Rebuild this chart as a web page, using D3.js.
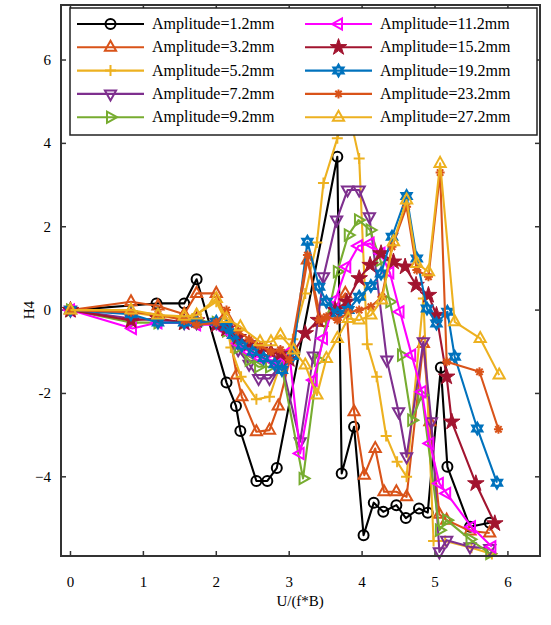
<!DOCTYPE html>
<html>
<head>
<meta charset="utf-8">
<script src="https://cdn.jsdelivr.net/npm/d3@7"></script>
<style>
  body { margin: 0; background: #fff; }
  svg text { font-family: "Liberation Serif", "Times New Roman", serif; fill: #000; }
</style>
</head>
<body>
<svg id="chart" width="551" height="625"></svg>
<script>
// series values: [U/(f*B), H4]
var amp1_2 = [[0,0],[1.18,0.16],[1.56,0.16],[1.73,0.74],[2.14,-1.74],[2.27,-2.30],[2.33,-2.90],[2.55,-4.10],[2.70,-4.10],[2.83,-3.79],[3.66,3.68],[3.72,-3.92],[3.89,-2.80],[4.02,-5.40],[4.16,-4.62],[4.29,-4.84],[4.47,-4.68],[4.60,-4.99],[4.78,-4.76],[4.90,-4.86],[5.08,-1.38],[5.17,-3.76],[5.48,-5.20],[5.75,-5.10]];
var amp3_2 = [[0,0],[0.83,0.2],[1.2,0.1],[1.56,-0.1],[1.73,0.4],[2.0,0.4],[2.14,-0.2],[2.28,-1.56],[2.35,-2.08],[2.55,-2.92],[2.73,-2.88],[2.85,-2.30],[3.05,-0.9],[3.25,1.2],[3.45,-0.3],[3.62,0.05],[3.77,0.4],[3.89,-2.44],[4.03,-3.96],[4.18,-3.32],[4.30,-4.36],[4.47,-4.36],[4.61,-4.48],[4.84,-0.8],[4.93,-2.68],[5.06,-4.9],[5.16,-5.04],[5.48,-5.3],[5.75,-5.35]];
var amp5_2 = [[0,0],[0.83,-0.05],[1.2,-0.15],[1.56,-0.2],[1.73,-0.1],[2.0,0.2],[2.14,-0.3],[2.2,-0.9],[2.34,-1.6],[2.55,-2.14],[2.73,-2.08],[2.88,-1.3],[3.05,-0.7],[3.22,0.4],[3.38,1.62],[3.47,3.05],[3.66,4.12],[3.8,4.9],[3.96,3.64],[4.07,-0.82],[4.20,-1.60],[4.33,-3.02],[4.48,-3.64],[4.61,-4.0],[4.84,0.28],[4.98,-5.54],[5.14,-5.54],[5.5,-5.7],[5.78,-5.85]];
var amp7_2 = [[0,0],[0.83,-0.2],[1.2,-0.25],[1.56,-0.3],[1.73,-0.3],[2.0,-0.3],[2.14,-0.45],[2.3,-0.95],[2.45,-1.3],[2.58,-1.64],[2.73,-1.64],[2.9,-1.3],[3.15,-3.16],[3.33,-1.1],[3.47,0.80],[3.65,2.16],[3.80,2.88],[3.96,2.88],[4.10,2.24],[4.34,-1.2],[4.50,-2.44],[4.61,-3.52],[4.84,-0.76],[4.95,-2.68],[5.06,-5.8],[5.16,-5.52],[5.48,-5.68],[5.75,-5.72]];
var amp9_2 = [[0,0],[0.83,-0.3],[1.2,-0.3],[1.56,-0.3],[1.73,-0.25],[2.0,-0.3],[2.14,-0.5],[2.3,-0.9],[2.45,-1.2],[2.58,-1.36],[2.73,-1.36],[2.88,-1.2],[3.19,-4.04],[3.4,-1.2],[3.66,0.92],[3.81,1.8],[3.95,2.16],[4.11,1.92],[4.25,1.2],[4.38,0.2],[4.54,-1.08],[4.68,-2.64],[4.82,-2.04],[5.06,-5.28],[5.16,-5.04],[5.48,-5.50],[5.75,-5.84]];
var amp11_2 = [[0,0],[0.85,-0.44],[1.2,-0.3],[1.56,-0.3],[1.73,-0.35],[2.0,-0.35],[2.14,-0.5],[2.3,-0.8],[2.45,-1.0],[2.6,-1.15],[2.75,-1.2],[2.88,-1.25],[3.0,-1.0],[3.15,-3.44],[3.33,-1.68],[3.47,-0.68],[3.63,0.24],[3.79,1.04],[3.95,1.54],[4.11,1.6],[4.26,1.36],[4.38,0.9],[4.52,-0.04],[4.68,-1.08],[4.82,-1.96],[4.93,-3.2],[5.06,-4.16],[5.16,-4.4],[5.50,-5.2],[5.78,-5.68]];
var amp15_2 = [[0,0],[0.83,-0.25],[1.2,-0.2],[1.56,-0.3],[1.73,-0.25],[2.0,-0.35],[2.14,-0.45],[2.3,-0.65],[2.45,-0.8],[2.6,-0.95],[2.75,-1.0],[2.88,-1.05],[3.0,-1.18],[3.22,-0.56],[3.40,-0.24],[3.63,0],[3.79,0.2],[3.96,0.76],[4.11,1.08],[4.26,1.36],[4.43,1.16],[4.59,1.04],[4.74,0.6],[4.91,0.36],[5.02,-0.12],[5.16,-1.6],[5.23,-2.68],[5.56,-4.16],[5.82,-5.12]];
var amp19_2 = [[0,0],[0.83,-0.1],[1.2,-0.3],[1.56,-0.3],[1.73,-0.3],[2.0,-0.28],[2.14,-0.4],[2.23,-0.6],[2.35,-0.85],[2.5,-1.0],[2.65,-1.15],[2.8,-1.3],[2.9,-1.44],[3.05,-1.1],[3.25,1.64],[3.41,0.56],[3.51,0.2],[3.66,-0.08],[3.81,0],[3.96,0.32],[4.12,0.58],[4.26,0.88],[4.41,1.76],[4.61,2.74],[4.75,1.24],[4.89,0.04],[5.02,-0.32],[5.17,-0.04],[5.27,-1.12],[5.58,-2.84],[5.85,-4.14]];
var amp23_2 = [[0,0],[0.83,-0.05],[1.2,-0.1],[1.56,-0.25],[1.73,-0.36],[2.0,-0.3],[2.14,0.0],[2.3,-0.5],[2.45,-0.7],[2.6,-0.85],[2.75,-1.0],[2.88,-0.95],[3.0,-1.2],[3.25,1.32],[3.41,-0.24],[3.51,-0.16],[3.66,-0.24],[3.81,-0.06],[3.96,0],[4.12,0.08],[4.27,0.32],[4.41,1.52],[4.61,2.48],[4.75,0.96],[4.91,0.8],[5.07,3.3],[5.16,-1.24],[5.61,-1.48],[5.87,-2.86]];
var amp27_2 = [[0,0],[0.83,0.0],[1.2,-0.12],[1.56,-0.15],[1.73,-0.12],[2.0,0.28],[2.14,-0.2],[2.33,-0.4],[2.6,-0.76],[2.75,-0.76],[2.88,-0.6],[3.06,-0.96],[3.22,-1.32],[3.38,-2.04],[3.51,-1.16],[3.66,-0.68],[3.81,-0.2],[3.96,-0.24],[4.12,-0.12],[4.27,0.24],[4.43,1.64],[4.61,2.64],[4.75,1.12],[4.91,0.92],[5.07,3.52],[5.27,-0.28],[5.62,-0.68],[5.88,-1.56]];

var seriesNames = ['Amplitude=1.2mm','Amplitude=3.2mm','Amplitude=5.2mm','Amplitude=7.2mm','Amplitude=9.2mm',
	'Amplitude=11.2mm','Amplitude=15.2mm','Amplitude=19.2mm','Amplitude=23.2mm','Amplitude=27.2mm'];
var seriesValues = [amp1_2, amp3_2, amp5_2, amp7_2, amp9_2, amp11_2, amp15_2, amp19_2, amp23_2, amp27_2];
var xTicks = [0, 1, 2, 3, 4, 5, 6];
var yTicks = [-4, -2, 0, 2, 4, 6];
var yTickLabels = ['\u22124', '-2', '0', '2', '4', '6'];

// styles
var colors = ['#000000','#D95319','#EDB120','#7E2F8E','#77AC30','#FF00FF','#A2142F','#0072BD','#D95319','#EDB120'];
var markers = ['circle','triUp','plus','triDown','triRight','triLeft','penta','hexa','aster','triUp'];

(function(){
	var svg = d3.select('#chart');
	var plotLeft = 61, plotRight = 540, plotTop = 5, plotBottom = 556;

	var x = d3.scaleLinear().domain([-0.13, 6.44]).range([plotLeft, plotRight]);
	var y = d3.scaleLinear().domain([-5.9, 7.32]).range([plotBottom, plotTop]);

	function markerPath(type){
		var p = d3.path();
		switch (type){
		case 'circle':
			p.moveTo(5, 0); p.arc(0, 0, 5, 0, 2 * Math.PI); break;
		case 'triUp':
			p.moveTo(0, -6.5); p.lineTo(5.6, 3.5); p.lineTo(-5.6, 3.5); p.closePath(); break;
		case 'triDown':
			p.moveTo(0, 6.5); p.lineTo(5.6, -3.5); p.lineTo(-5.6, -3.5); p.closePath(); break;
		case 'triRight':
			p.moveTo(6.5, 0); p.lineTo(-3.5, -5.6); p.lineTo(-3.5, 5.6); p.closePath(); break;
		case 'triLeft':
			p.moveTo(-6.5, 0); p.lineTo(3.5, -5.6); p.lineTo(3.5, 5.6); p.closePath(); break;
		case 'plus':
			p.moveTo(-5.5, 0); p.lineTo(5.5, 0); p.moveTo(0, -5.5); p.lineTo(0, 5.5); break;
		case 'aster':
			[0, 45, 90, 135].forEach(function(a){
				var r = a * Math.PI / 180, dx = Math.cos(r) * 4.5, dy = Math.sin(r) * 4.5;
				p.moveTo(-dx, -dy); p.lineTo(dx, dy);
			});
			break;
		case 'hexa':
			[0, 1].forEach(function(k){
				for (var i = 0; i < 3; i++){
					var a = (k * 60 + i * 120 - 90) * Math.PI / 180;
					if (i === 0) p.moveTo(Math.cos(a) * 6, Math.sin(a) * 6);
					else p.lineTo(Math.cos(a) * 6, Math.sin(a) * 6);
				}
				p.closePath();
			});
			break;
		case 'penta':
			return d3.symbol().type(d3.symbolStar).size(85)();
		}
		return p.toString();
	}

	// frame ticks (inside, mirrored on all four sides)
	var axisG = svg.append('g');
	xTicks.forEach(function(t){
		axisG.append('line').attr('x1', x(t)).attr('x2', x(t)).attr('y1', plotBottom).attr('y2', plotBottom - 5)
			.attr('stroke', '#333').attr('stroke-width', 1.5);
		axisG.append('line').attr('x1', x(t)).attr('x2', x(t)).attr('y1', plotTop).attr('y2', plotTop + 5)
			.attr('stroke', '#333').attr('stroke-width', 1.5);
		axisG.append('text').attr('x', x(t)).attr('y', plotBottom + 31).attr('text-anchor', 'middle')
			.attr('font-size', 15).text(t);
	});
	yTicks.forEach(function(t, i){
		axisG.append('line').attr('x1', plotLeft).attr('x2', plotLeft + 5).attr('y1', y(t)).attr('y2', y(t))
			.attr('stroke', '#333').attr('stroke-width', 1.5);
		axisG.append('line').attr('x1', plotRight).attr('x2', plotRight - 5).attr('y1', y(t)).attr('y2', y(t))
			.attr('stroke', '#333').attr('stroke-width', 1.5);
		axisG.append('text').attr('x', plotLeft - 10).attr('y', y(t) + 5).attr('text-anchor', 'end')
			.attr('font-size', 15).text(yTickLabels[i]);
	});

	svg.append('text').attr('x', x(3.15)).attr('y', 606).attr('text-anchor', 'middle')
		.attr('font-size', 15).text('U/(f*B)');
	svg.append('text').attr('transform', 'translate(34,' + y(0) + ') rotate(-90)')
		.attr('text-anchor', 'middle').attr('font-size', 15).text('H4');

	// series
	var line = d3.line().x(function(d){ return x(d[0]); }).y(function(d){ return y(d[1]); });
	var plotG = svg.append('g');

	seriesValues.forEach(function(vals, i){
		var g = plotG.append('g');
		g.append('path').datum(vals).attr('d', line)
			.attr('fill', 'none').attr('stroke', colors[i]).attr('stroke-width', 2.1)
			.attr('stroke-linejoin', 'round');
		var filled = markers[i] === 'penta';
		g.selectAll('path.mk').data(vals).enter().append('path')
			.attr('class', 'mk')
			.attr('transform', function(d){ return 'translate(' + x(d[0]) + ',' + y(d[1]) + ')'; })
			.attr('d', markerPath(markers[i]))
			.attr('fill', filled ? colors[i] : 'none')
			.attr('stroke', colors[i]).attr('stroke-width', filled ? 1 : 2);
	});

	// box
	svg.append('rect').attr('x', plotLeft).attr('y', plotTop)
		.attr('width', plotRight - plotLeft).attr('height', plotBottom - plotTop)
		.attr('fill', 'none').attr('stroke', '#333').attr('stroke-width', 2);

	// legend
	var lg = svg.append('g');
	lg.append('rect').attr('x', 70).attr('y', 8).attr('width', 467).attr('height', 127)
		.attr('fill', '#fff').attr('stroke', '#222').attr('stroke-width', 1.5);
	seriesNames.forEach(function(name, i){
		var col = i < 5 ? 0 : 1, row = i % 5;
		var x0 = col ? 305 : 77, yy = 24 + row * 23.3;
		lg.append('line').attr('x1', x0).attr('x2', x0 + 67).attr('y1', yy).attr('y2', yy)
			.attr('stroke', colors[i]).attr('stroke-width', 2.1);
		var filled = markers[i] === 'penta';
		lg.append('path').attr('transform', 'translate(' + (x0 + 33.5) + ',' + yy + ')')
			.attr('d', markerPath(markers[i]))
			.attr('fill', filled ? colors[i] : 'none')
			.attr('stroke', colors[i]).attr('stroke-width', filled ? 1 : 2);
		lg.append('text').attr('x', x0 + 75).attr('y', yy + 5).attr('font-size', 16).text(name);
	});
})();
</script>
</body>
</html>
